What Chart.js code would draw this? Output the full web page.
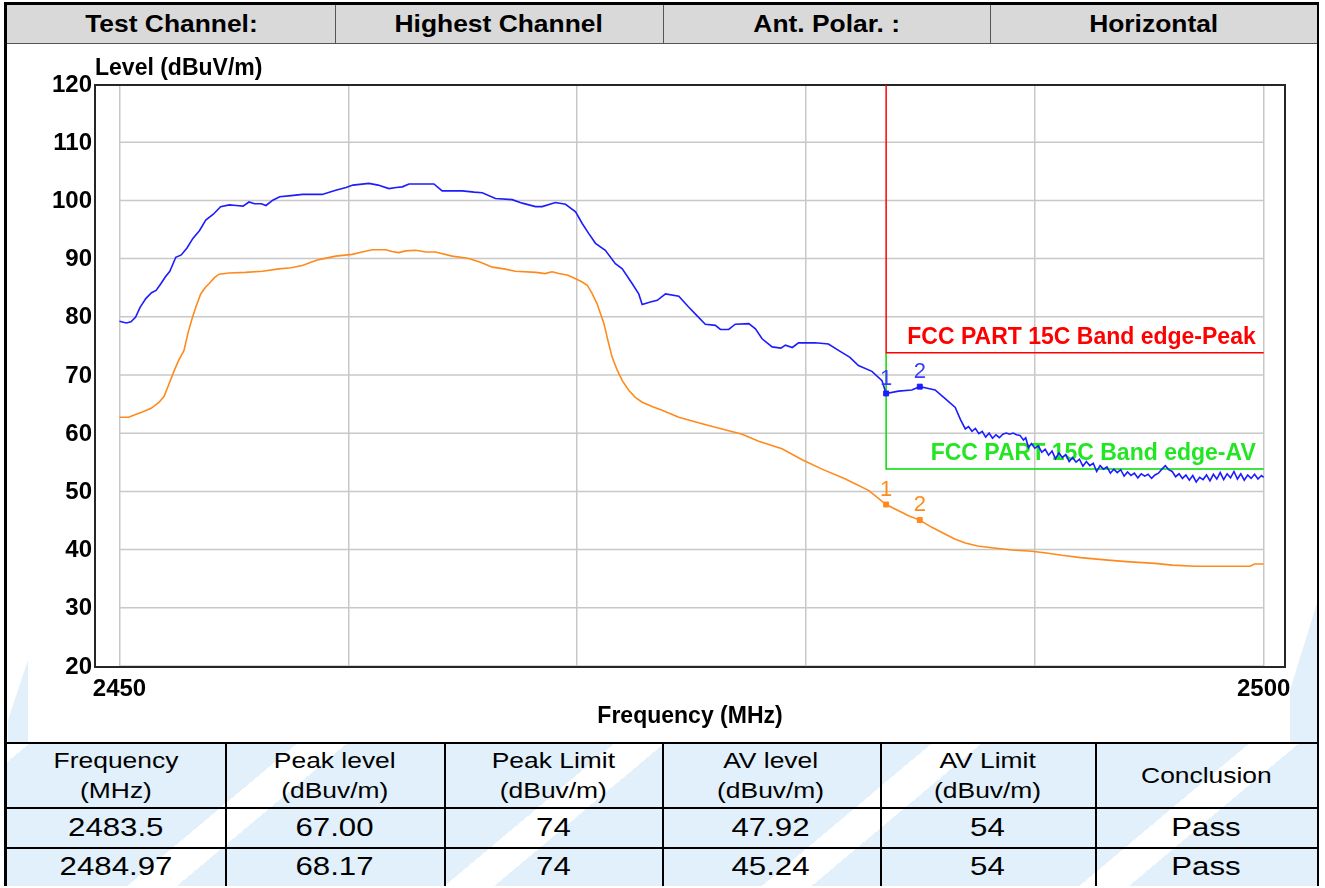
<!DOCTYPE html>
<html>
<head>
<meta charset="utf-8">
<script src="https://cdn.jsdelivr.net/npm/chart.js@4.4.1/dist/chart.umd.min.js"></script>
<style>
  html, body { margin: 0; padding: 0; background: #fff; }
  #page { position: relative; width: 1325px; height: 888px; overflow: hidden; background: #fff;
          font-family: "Liberation Sans", Arial, sans-serif; color: #000; }
  .wm { position: absolute; background: #e1f0fb; }
  #outer { position: absolute; left: 4px; top: 2px; width: 1315px; height: 884px; box-sizing: border-box;
           border-left: 3px solid #000; border-right: 2px solid #000; border-top: 3px solid #000; border-bottom: 2px solid #000; }
  #head { position: absolute; left: 7px; top: 5px; width: 1310px; height: 39px; background: #d9d9d9;
          border-bottom: 1px solid #555; box-sizing: border-box; }
  .hcell { position: absolute; top: 0; height: 38px; display: flex; align-items: center; justify-content: center;
           font-weight: bold; font-size: 24px; }
  .hcell span, .tcell span { display: inline-block; }
  .hcell span { transform: scaleX(1.1); }
  .vline { position: absolute; background: #555; width: 1px; }
  #table { position: absolute; left: 7px; top: 742px; width: 1310px; height: 142px; border-top: 2px solid #000;
           background: repeating-linear-gradient(140deg, #fff 0px, #fff 14px, #e1f0fb 14px, #e1f0fb 186px, #fff 186px, #fff 204px); }
  .tcell { position: absolute; display: flex; align-items: center; justify-content: center; text-align: center; }
  .tcell.h { font-size: 22px; line-height: 30px; }
  .tcell.h span { transform: scaleX(1.2); }
  .tcell.d { font-size: 26px; }
  .tcell.d span { transform: scaleX(1.2); }
  .tl { position: absolute; background: #000; }
  #chartBox { position: absolute; left: 0; top: 44px; width: 1325px; height: 698px; }
</style>
</head>
<body>
<div id="page">
  <div class="wm" style="left:8px; top:660px; width:20px; height:90px; clip-path: polygon(0 60px, 20px 0, 20px 90px, 0 90px);"></div>
  <div class="wm" style="left:1290px; top:600px; width:28px; height:150px; clip-path: polygon(0 90px, 28px 0, 28px 150px, 0 150px);"></div>
  <div id="outer"></div>
  <div id="head"></div>
  <div id="table"></div>
  <div id="chartBox"><canvas id="chart" width="1325" height="698"></canvas></div>
</div>
<script>
// measured traces (frequency in MHz, level in dBuV/m)
var peakFreq = [2450.0, 2450.3, 2450.5, 2450.7, 2450.9, 2451.15, 2451.4, 2451.6, 2451.8, 2452.0, 2452.2, 2452.46, 2452.7, 2452.95,
  2453.2, 2453.5, 2453.77, 2454.1, 2454.42, 2454.8, 2455.1, 2455.4, 2455.66, 2455.9, 2456.2, 2456.4, 2456.7, 2457.0, 2457.5,
  2458.0, 2458.86, 2459.45, 2459.9, 2460.2, 2460.9, 2461.3, 2461.77, 2462.1, 2462.36, 2462.65, 2463.2, 2463.74, 2464.1, 2464.98,
  2465.5, 2465.85, 2466.43, 2467.16, 2467.6, 2468.18, 2468.47, 2469.05, 2469.49, 2469.93, 2470.22, 2470.5, 2470.8, 2471.23,
  2471.67, 2471.97, 2472.4, 2472.69, 2472.84, 2473.2, 2473.5, 2473.86, 2474.44, 2474.88, 2475.2, 2475.6, 2476.04, 2476.26,
  2476.62, 2476.91, 2477.5, 2477.79, 2478.08, 2478.52, 2478.9, 2479.1, 2479.4, 2479.67, 2480.4, 2480.98, 2481.42, 2481.92,
  2482.29, 2482.88, 2483.32, 2483.5, 2484.04, 2484.62, 2484.97, 2485.3, 2485.64, 2486.08, 2486.52, 2486.75,
  2486.96, 2487.1, 2487.25, 2487.4, 2487.55, 2487.7, 2487.85, 2488.0, 2488.15, 2488.3, 2488.45, 2488.6, 2488.75, 2488.9,
  2489.05, 2489.2, 2489.35, 2489.5, 2489.6, 2489.72, 2489.85, 2490.0, 2490.15, 2490.3, 2490.45, 2490.6, 2490.75, 2490.9,
  2491.05, 2491.2, 2491.35, 2491.5, 2491.65, 2491.8, 2491.95, 2492.1, 2492.25, 2492.4, 2492.55, 2492.7, 2492.85, 2493.0,
  2493.15, 2493.3, 2493.45, 2493.6, 2493.75, 2493.9, 2494.05, 2494.2, 2494.35, 2494.5, 2494.65, 2494.8, 2494.95, 2495.1,
  2495.25, 2495.4, 2495.55, 2495.7, 2495.85, 2496.0, 2496.15, 2496.3, 2496.45, 2496.6, 2496.75, 2496.9, 2497.05, 2497.2,
  2497.35, 2497.5, 2497.65, 2497.8, 2497.95, 2498.1, 2498.25, 2498.4, 2498.55, 2498.7, 2498.85, 2499.0, 2499.15, 2499.3,
  2499.45, 2499.6, 2499.75, 2499.9, 2500.0];
var peakLevel = [79.4, 79.1, 79.3, 80.1, 81.8, 83.3, 84.3, 84.7, 85.8, 87.0, 88.0, 90.4, 90.8, 92.0,
  93.6, 95.0, 96.8, 97.8, 99.1, 99.4, 99.3, 99.2, 99.9, 99.6, 99.6, 99.3, 100.2, 100.8, 101.0,
  101.2, 101.2, 101.9, 102.4, 102.8, 103.1, 102.8, 102.2, 102.4, 102.5, 103.0, 103.0, 103.0, 101.8, 101.8,
  101.6, 101.5, 100.5, 100.3, 99.7, 99.1, 99.1, 99.8, 99.5, 98.2, 96.2, 94.5, 92.8, 91.6,
  89.3, 88.4, 85.9, 84.1, 82.3, 82.7, 83.0, 84.1, 83.7, 81.8, 80.5, 78.9, 78.7, 78.0,
  78.0, 78.9, 79.0, 78.1, 76.4, 75.0, 74.8, 75.3, 74.9, 75.7, 75.7, 75.5, 74.4, 73.2,
  71.8, 70.8, 69.2, 67.0, 67.4, 67.6, 68.17, 67.9, 67.6, 66.1, 64.6, 62.5,
  60.9, 61.3, 60.5, 61.0, 60.1, 60.5, 59.5, 60.2, 59.3, 59.9, 59.4, 60.0, 60.2, 60.0,
  60.2, 59.9, 59.8, 59.0, 59.4, 57.7, 58.4, 57.6, 58.0, 56.9, 57.4, 56.4, 57.1, 55.8,
  56.8, 56.0, 56.5, 55.3, 56.0, 55.2, 55.7, 54.5, 55.3, 54.6, 55.0, 53.6, 54.6, 54.0,
  54.4, 53.3, 54.0, 53.4, 53.9, 52.8, 53.5, 52.9, 53.3, 52.5, 53.2, 52.8, 53.1, 52.4,
  53.0, 53.3, 54.0, 54.6, 53.9, 53.6, 52.7, 53.2, 52.4, 53.0, 52.1, 52.9, 51.8, 52.6,
  52.2, 53.0, 52.0, 53.1, 52.3, 53.4, 52.2, 53.2, 52.5, 53.6, 52.3, 53.2, 52.1, 53.0,
  52.4, 53.1, 52.3, 52.9, 52.6];

var avgFreq = [2450.0, 2450.4, 2450.7, 2451.0, 2451.4, 2451.73, 2451.95, 2452.15, 2452.4, 2452.6, 2452.82, 2453.0, 2453.19,
  2453.35, 2453.55, 2453.75, 2453.92, 2454.15, 2454.35, 2454.79, 2455.5, 2456.24, 2456.97, 2457.5, 2457.99, 2458.4, 2458.72,
  2459.45, 2460.17, 2460.6, 2461.05, 2461.63, 2461.9, 2462.21, 2462.5, 2462.94, 2463.4, 2463.81, 2464.54, 2465.27, 2465.8,
  2466.29, 2466.8, 2467.3, 2468.2, 2468.6, 2468.9, 2469.2, 2469.6, 2469.93, 2470.2, 2470.44, 2470.65, 2470.87, 2471.17,
  2471.35, 2471.53, 2471.75, 2471.97, 2472.26, 2472.55, 2472.84, 2473.3, 2473.71, 2474.44, 2475.46, 2476.33, 2477.21,
  2477.93, 2478.95, 2479.83, 2480.7, 2481.72, 2482.75, 2483.5, 2484.48, 2484.97, 2485.5, 2485.94, 2486.5, 2486.96, 2487.5,
  2488.12, 2489.0, 2489.87, 2490.5, 2491.18, 2492.0, 2493.07, 2494.0, 2495.25, 2496.0, 2497.0, 2498.0, 2499.4, 2499.6, 2500.0];
var avgLevel = [62.9, 62.9, 63.4, 63.8, 64.5, 65.5, 66.5, 68.5, 71.0, 72.8, 74.4, 77.5, 80.1,
  82.0, 84.1, 85.2, 85.9, 86.9, 87.5, 87.7, 87.8, 88.0, 88.4, 88.6, 89.0, 89.6, 90.0,
  90.6, 90.9, 91.3, 91.7, 91.7, 91.4, 91.2, 91.5, 91.6, 91.3, 91.3, 90.6, 90.2, 89.5,
  88.7, 88.4, 88.0, 87.8, 87.6, 87.9, 87.6, 87.3, 86.7, 86.2, 85.6, 84.2, 82.4, 79.0,
  76.0, 73.2, 71.0, 69.2, 67.5, 66.3, 65.5, 64.7, 64.1, 62.9, 61.8, 60.9, 60.0,
  58.8, 57.5, 55.6, 54.0, 52.3, 50.3, 47.92, 46.0, 45.24, 44.0, 43.1, 42.0, 41.3, 40.8,
  40.5, 40.1, 39.9, 39.6, 39.2, 38.8, 38.4, 38.1, 37.8, 37.5, 37.3, 37.3, 37.3, 37.7, 37.7];

// markers
var markerFreq = [2483.5, 2484.97];
var markerPeak = [67.00, 68.17];
var markerAvg = [47.92, 45.24];
var markerNames = ['1', '2'];

// limit lines
var peakLimitFreq = [2483.5, 2483.5, 2500];
var peakLimitLevel = [120, 74, 74];
var avLimitFreq = [2483.5, 2483.5, 2500];
var avLimitLevel = [74, 54, 54];

// axes
var yTicks = [20, 30, 40, 50, 60, 70, 80, 90, 100, 110, 120];
var xTicks = [2450, 2460, 2470, 2480, 2490, 2500];
var xLabelled = [2450, 2500];

// tables
var headerCells = ['Test Channel:', 'Highest Channel', 'Ant. Polar. :', 'Horizontal'];
var tableHead = [['Frequency', '(MHz)'], ['Peak level', '(dBuv/m)'], ['Peak Limit', '(dBuv/m)'],
                 ['AV level', '(dBuv/m)'], ['AV Limit', '(dBuv/m)'], ['Conclusion']];
var tableRows = [['2483.5', '67.00', '74', '47.92', '54', 'Pass'],
                 ['2484.97', '68.17', '74', '45.24', '54', 'Pass']];

// --- header row
var head = document.getElementById('head');
var hEdges = [0, 328, 656, 983, 1310];
headerCells.forEach(function (t, i) {
    var c = document.createElement('div');
    c.className = 'hcell';
    c.style.left = hEdges[i] + 'px';
    c.style.width = (hEdges[i + 1] - hEdges[i]) + 'px';
    c.innerHTML = '<span>' + t + '</span>';
    head.appendChild(c);
    if (i > 0) {
        var v = document.createElement('div');
        v.className = 'vline';
        v.style.left = hEdges[i] + 'px';
        v.style.top = '0px';
        v.style.height = '38px';
        head.appendChild(v);
    }
});

// --- result table
var table = document.getElementById('table');
var colX = [0, 218, 437, 655, 873, 1088, 1310];
var rowY = [0, 63, 103, 142];
function addLine(l, t, w, h) {
    var d = document.createElement('div');
    d.className = 'tl';
    d.style.cssText = 'left:' + l + 'px;top:' + t + 'px;width:' + w + 'px;height:' + h + 'px;';
    table.appendChild(d);
}
function addCell(c, r, html, cls) {
    var d = document.createElement('div');
    d.className = 'tcell ' + cls;
    d.style.left = colX[c] + 'px';
    d.style.top = rowY[r] + 'px';
    d.style.width = (colX[c + 1] - colX[c]) + 'px';
    d.style.height = (rowY[r + 1] - rowY[r]) + 'px';
    d.innerHTML = html;
    table.appendChild(d);
}
tableHead.forEach(function (lines, c) {
    addCell(c, 0, '<span>' + lines.join('<br>') + '</span>', 'h');
});
tableRows.forEach(function (row, r) {
    row.forEach(function (t, c) { addCell(c, r + 1, '<span>' + t + '</span>', 'd'); });
});
addLine(0, rowY[1], 1310, 2);
addLine(0, rowY[2], 1310, 2);
for (var k = 1; k < colX.length - 1; k++) addLine(colX[k], 0, 2, 142);

// --- chart
function pts(xs, ys) {
    return xs.map(function (x, i) { return {x: x, y: ys[i]}; });
}

var FONT = '"Liberation Sans", Arial, sans-serif';
var blue = '#1c1cff';
var orange = '#ff8a1c';

var decor = {
    id: 'decor',
    beforeDatasetsDraw: function (chart) {
        var ctx = chart.ctx, a = chart.chartArea, x = chart.scales.x, y = chart.scales.y;
        ctx.save();
        // horizontal grid only spans the sweep range
        ctx.strokeStyle = '#c8c8c8';
        ctx.lineWidth = 1.5;
        var x0 = x.getPixelForValue(xTicks[0]), x1 = x.getPixelForValue(xTicks[xTicks.length - 1]);
        yTicks.forEach(function (v) {
            if (v >= 120) return;
            var py = y.getPixelForValue(v) - 1;
            ctx.beginPath();
            ctx.moveTo(x0, py);
            ctx.lineTo(x1, py);
            ctx.stroke();
        });
        // frame
        ctx.strokeStyle = '#262626';
        ctx.lineWidth = 2;
        ctx.strokeRect(a.left, a.top, a.right - a.left, a.bottom - a.top);
        // y title
        ctx.fillStyle = '#000';
        ctx.font = 'bold 23px ' + FONT;
        ctx.textAlign = 'left';
        ctx.textBaseline = 'middle';
        ctx.fillText('Level (dBuV/m)', a.left, a.top - 16);
        // limit captions
        ctx.textAlign = 'right';
        ctx.fillStyle = '#ff0000';
        ctx.fillText('FCC PART 15C Band edge-Peak', x.getPixelForValue(2500) - 8, y.getPixelForValue(74) - 15);
        ctx.fillStyle = '#22e622';
        ctx.fillText('FCC PART 15C Band edge-AV', x.getPixelForValue(2500) - 8, y.getPixelForValue(54) - 15);
        ctx.restore();
    },
    afterDatasetsDraw: function (chart) {
        var ctx = chart.ctx;
        ctx.save();
        ctx.font = '22px ' + FONT;
        ctx.textAlign = 'center';
        ctx.textBaseline = 'middle';
        [[0, '#3a3aff'], [1, orange]].forEach(function (d) {
            ctx.fillStyle = d[1];
            chart.getDatasetMeta(d[0]).data.forEach(function (pt, i) {
                ctx.fillText(markerNames[i], pt.x, pt.y - 15);
            });
        });
        ctx.restore();
    }
};

new Chart(document.getElementById('chart').getContext('2d'), {
    type: 'scatter',
    data: {
        datasets: [
            {data: pts(markerFreq, markerPeak), backgroundColor: blue, borderColor: blue, pointStyle: 'rect', pointRadius: 3.5, showLine: false},
            {data: pts(markerFreq, markerAvg), backgroundColor: orange, borderColor: orange, pointStyle: 'rect', pointRadius: 3.5, showLine: false},
            {data: pts(peakFreq, peakLevel), borderColor: blue, borderWidth: 1.6, pointRadius: 0, showLine: true, tension: 0},
            {data: pts(avgFreq, avgLevel), borderColor: orange, borderWidth: 1.6, pointRadius: 0, showLine: true, tension: 0},
            {data: pts(peakLimitFreq, peakLimitLevel), borderColor: '#ff0000', borderWidth: 1.5, pointRadius: 0, showLine: true},
            {data: pts(avLimitFreq, avLimitLevel), borderColor: '#00dd00', borderWidth: 1.5, pointRadius: 0, showLine: true}
        ]
    },
    options: {
        responsive: false,
        animation: false,
        devicePixelRatio: 1,
        layout: {autoPadding: false, padding: {top: 41, right: 40, bottom: 0, left: 0}},
        plugins: {legend: {display: false}, tooltip: {enabled: false}},
        scales: {
            x: {
                type: 'linear',
                min: 2448.93,
                max: 2500.93,
                afterBuildTicks: function (s) { s.ticks = xTicks.map(function (v) { return {value: v}; }); },
                afterFit: function (s) { s.height = 75; },
                grid: {color: '#c8c8c8', lineWidth: 1.5, drawTicks: false},
                border: {display: false},
                ticks: {
                    autoSkip: false, maxRotation: 0, padding: 8, color: '#000',
                    font: {family: FONT, size: 24, weight: 'bold'},
                    callback: function (v) { return xLabelled.indexOf(v) >= 0 ? String(v) : ''; }
                },
                title: {display: true, text: 'Frequency (MHz)', color: '#000',
                        font: {family: FONT, size: 23, weight: 'bold'}, padding: {top: 0, bottom: 12}}
            },
            y: {
                min: 20,
                max: 120,
                afterBuildTicks: function (s) { s.ticks = yTicks.map(function (v) { return {value: v}; }); },
                afterFit: function (s) { s.width = 95; },
                grid: {display: false, drawTicks: false},
                border: {display: false},
                ticks: {padding: 3, color: '#000', font: {family: FONT, size: 24, weight: 'bold'}}
            }
        }
    },
    plugins: [decor]
});
</script>
</body>
</html>
